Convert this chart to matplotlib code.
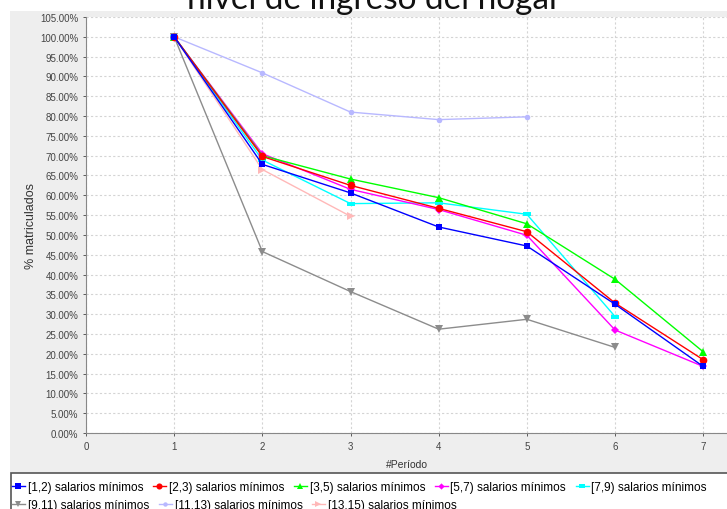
import matplotlib.pyplot as plt
from matplotlib.patches import Rectangle
from matplotlib.ticker import MultipleLocator, FuncFormatter

plt.rcParams['font.family'] = ['Liberation Sans', 'DejaVu Sans']

# datos (% matriculados por periodo)
periodos_1_2 = [1, 2, 3, 4, 5, 6, 7]
s_1_2 = [100.0, 67.8, 60.6, 52.0, 47.2, 32.5, 16.8]
periodos_2_3 = [1, 2, 3, 4, 5, 6, 7]
s_2_3 = [100.0, 69.8, 62.5, 56.7, 50.8, 32.8, 18.5]
periodos_3_5 = [1, 2, 3, 4, 5, 6, 7]
s_3_5 = [100.0, 70.0, 64.1, 59.4, 52.8, 38.8, 20.5]
periodos_5_7 = [1, 2, 3, 4, 5, 6, 7]
s_5_7 = [100.0, 70.5, 61.5, 56.4, 49.9, 26.0, 16.8]
periodos_7_9 = [1, 2, 3, 4, 5, 6]
s_7_9 = [100.0, 68.9, 57.9, 58.1, 55.2, 29.4]
periodos_9_11 = [1, 2, 3, 4, 5, 6]
s_9_11 = [100.0, 45.8, 35.7, 26.2, 28.7, 21.6]
periodos_11_13 = [1, 2, 3, 4, 5]
s_11_13 = [100.0, 90.9, 81.0, 79.1, 79.8]
periodos_13_15 = [1, 2, 3]
s_13_15 = [100.0, 66.5, 54.7]

etiquetas = ["[1,2) salarios mínimos", "[2,3) salarios mínimos", "[3,5) salarios mínimos",
             "[5,7) salarios mínimos", "[7,9) salarios mínimos", "[9,11) salarios mínimos",
             "[11,13) salarios mínimos", "[13,15) salarios mínimos"]

rect_h = [(-1, -0.5), (1, -0.5), (1, 0.5), (-1, 0.5), (-1, -0.5)]
series = [
    (periodos_1_2, s_1_2, "#0000ff", "s", 5),
    (periodos_2_3, s_2_3, "#ff0000", "o", 5.5),
    (periodos_3_5, s_3_5, "#00ff00", "^", 5.5),
    (periodos_5_7, s_5_7, "#ff00ff", "D", 4),
    (periodos_7_9, s_7_9, "#00ffff", rect_h, 6),
    (periodos_9_11, s_9_11, "#8c8c8c", "v", 5.5),
    (periodos_11_13, s_11_13, "#b8b8ff", "o", 4),
    (periodos_13_15, s_13_15, "#ffb8b8", ">", 5.5),
]

fig = plt.figure(figsize=(7.27, 5.10), dpi=100)
W, H = 727, 510

# panel gris de fondo
fig.patches.append(Rectangle((10 / W, (H - 474) / H), 1, (474 - 12) / H,
                             transform=fig.transFigure, facecolor="#eeeeee",
                             edgecolor="none", zorder=-1))

# titulo (cortado arriba, como en la original)
fig.text(374 / W, 1 - 9 / H, "nivel de ingreso del hogar", ha="center", va="baseline",
         fontsize=24, color="#111111", family=["Lato", "DejaVu Sans"])

ax = fig.add_axes([86 / W, (H - 434) / H, 1 - 86 / W, (434 - 18) / H])
ax.set_facecolor("white")

handles = []
for i, (x, y, c, m, ms) in enumerate(series):
    ln, = ax.plot(x, y, color=c, marker=m, markersize=ms, linewidth=1.0,
                  markeredgewidth=0, zorder=20 - i, clip_on=False)
    handles.append(ln)

ax.set_xlim(0, 7.27)
ax.set_ylim(0, 105)
ax.xaxis.set_major_locator(MultipleLocator(1))
ax.yaxis.set_major_locator(MultipleLocator(5))
ax.yaxis.set_major_formatter(FuncFormatter(lambda v, p: f"{v:.2f}%"))
ax.grid(True, color="#d4d4d4", linestyle=(0, (2, 2)), linewidth=0.8)
ax.set_axisbelow(True)
ax.tick_params(labelsize=7, colors="#444444", length=2, width=0.6)
for s in ["top", "right"]:
    ax.spines[s].set_visible(False)
for s in ["left", "bottom"]:
    ax.spines[s].set_color("#888888")
    ax.spines[s].set_linewidth(0.8)
ax.set_xlabel("#Período", fontsize=7.5, color="#333333", labelpad=6)
ax.set_ylabel("% matriculados", fontsize=9, color="#333333", labelpad=2)

# leyenda inferior: una fila por leyenda, como en la original
fig.patches.append(Rectangle((11 / W, -0.05), 1, (510 - 474) / H + 0.05,
                             transform=fig.transFigure, facecolor="white",
                             edgecolor="#555555", linewidth=1.2, zorder=1))
opts = dict(loc="upper left", frameon=False, fontsize=8.5, handlelength=1.1,
            handletextpad=0.25, columnspacing=0.8, markerscale=0.8,
            borderpad=0.0, borderaxespad=0.0)
fig.legend(handles[:5], etiquetas[:5], ncol=5, bbox_to_anchor=(12 / W, 1 - 482 / H), **opts)
fig.legend(handles[5:], etiquetas[5:], ncol=3, bbox_to_anchor=(12 / W, 1 - 500 / H), **opts)

fig.savefig("out.png", dpi=100)
